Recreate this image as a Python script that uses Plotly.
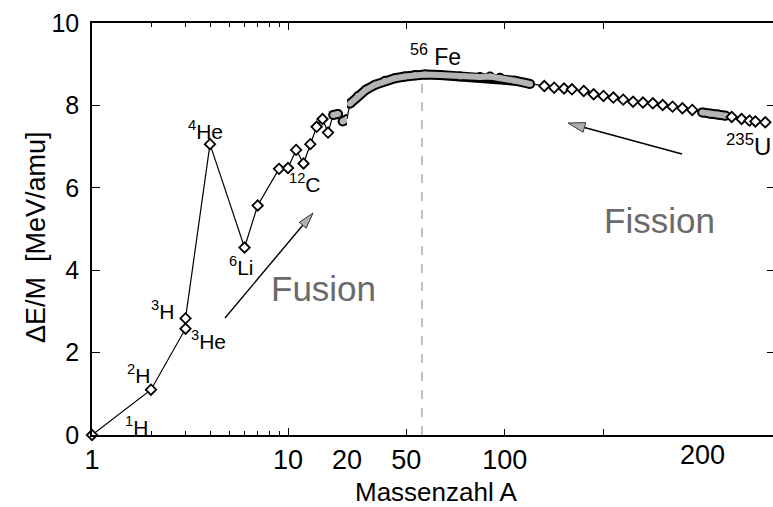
import math
import plotly.graph_objects as go

# ---------------- data ----------------
# light nuclei, log part of the mass axis
A_light = [1, 2, 3, 3, 4, 6, 7, 9, 10, 11, 12, 13, 14, 15, 16]
E_light = [0.0, 1.10, 2.58, 2.83, 7.06, 4.55, 5.57, 6.46, 6.48, 6.92, 6.59, 7.06, 7.48, 7.67, 7.34]
# dense groups of nuclei drawn as grey bands
A_blob1 = [17, 18]
E_blob1 = [7.77, 7.79]
A_blob2 = [19, 20]
E_blob2 = [7.61, 7.67]
A_band = [21.5, 25.6, 29.6, 34.2, 39.3, 44.3, 49.4, 54.5, 59.5, 67.1, 77.3, 87.4, 92.5, 97.5, 105.1, 112.8]
E_band = [8.04, 8.23, 8.38, 8.50, 8.60, 8.66, 8.70, 8.74, 8.75, 8.74, 8.70, 8.69, 8.70, 8.67, 8.60, 8.52]
# heavy nuclei
A_heavy = [120, 125, 130, 134, 140, 145, 150, 155, 160, 165, 170, 175, 180, 185, 190, 195]
E_heavy = [8.47, 8.43, 8.41, 8.39, 8.35, 8.27, 8.23, 8.19, 8.14, 8.09, 8.07, 8.05, 8.01, 7.97, 7.93, 7.89]
A_blob3 = [200, 204, 208, 212]
E_blob3 = [7.83, 7.80, 7.78, 7.75]
A_heavy2 = [215, 220, 224, 227, 232]
E_heavy2 = [7.72, 7.67, 7.63, 7.61, 7.59]
# dashed marker line at the iron peak
A_fe_line = [58, 58]
E_fe_line = [0, 8.68]

# axis ticks
x_log_ticks = [1, 10]
x_log_text = ["1", "10"]
x_log_minor = [2, 3, 4, 5, 6, 7, 8, 9]
x_lin_ticks = [20, 50, 100, 150]
x_lin_text = ["20", "50", "100", ""]
x_extra_label = "200"
y_ticks = [0, 2, 4, 6, 8, 10]
y_text = ["0", "2", "4", "6", "8", "10"]

# ---------------- layout geometry ----------------
W, H = 773, 507
PLOT_L, PLOT_R, PLOT_T, PLOT_B = 92, 774, 23, 435   # plot area in window pixels
L, R = PLOT_L, 0
T, B = PLOT_T, H - PLOT_B
PW, PH = W - L - R, PLOT_B - PLOT_T
X_SPLIT_PX = 347  # pixel where the log part (1..20) turns linear
d = (X_SPLIT_PX - PLOT_L) / PW
LIN_END = 20 + (W - X_SPLIT_PX) / 1.973

FONT = "Liberation Sans, Arial, Helvetica, sans-serif"


def px(x, y):
    return (x - PLOT_L) / PW, (PLOT_B - y) / PH


A_all = A_light + A_blob1 + A_blob2 + A_band + A_heavy + A_blob3 + A_heavy2
E_all = E_light + E_blob1 + E_blob2 + E_band + E_heavy + E_blob3 + E_heavy2
A_left = [a for a in A_all if a <= 20]
E_left = [e for a, e in zip(A_all, E_all) if a <= 20]
A_right = [a for a in A_all if a >= 20]
E_right = [e for a, e in zip(A_all, E_all) if a >= 20]

fig = go.Figure()

# dashed line at Fe
fig.add_trace(go.Scatter(x=A_fe_line, y=E_fe_line, xaxis="x2", yaxis="y", mode="lines",
                         line=dict(color="#999999", width=1.2, dash="dash"), hoverinfo="skip"))

# connecting lines
fig.add_trace(go.Scatter(x=A_left, y=E_left, xaxis="x", yaxis="y", mode="lines",
                         line=dict(color="black", width=1.2)))
fig.add_trace(go.Scatter(x=A_right, y=E_right, xaxis="x2", yaxis="y", mode="lines",
                         line=dict(color="black", width=1.2)))


def band(xs, ys, xa):
    fig.add_trace(go.Scatter(x=xs, y=ys, xaxis=xa, yaxis="y", mode="lines+markers",
                             line=dict(color="black", width=10),
                             marker=dict(symbol="circle", size=10, color="black", line=dict(width=0))))
    fig.add_trace(go.Scatter(x=xs, y=ys, xaxis=xa, yaxis="y", mode="lines+markers",
                             line=dict(color="#b4b4b4", width=6),
                             marker=dict(symbol="circle", size=6, color="#b4b4b4", line=dict(width=0))))


band(A_blob1, E_blob1, "x")
band(A_blob2, E_blob2, "x")
band(A_band, E_band, "x2")
band(A_blob3, E_blob3, "x2")

mk = dict(symbol="diamond", size=8, color="white", line=dict(color="black", width=1.8))
fig.add_trace(go.Scatter(x=A_light, y=E_light, xaxis="x", yaxis="y", mode="markers",
                         marker=mk, cliponaxis=False))
fig.add_trace(go.Scatter(x=A_heavy + A_heavy2, y=E_heavy + E_heavy2, xaxis="x2", yaxis="y",
                         mode="markers", marker=mk, cliponaxis=False))
# invisible trace to create the right-hand tick axis
fig.add_trace(go.Scatter(x=[100], y=[5], xaxis="x2", yaxis="y2", mode="markers",
                         marker=dict(opacity=0), hoverinfo="skip"))

axis_common = dict(showgrid=False, zeroline=False, showline=True, linecolor="black", linewidth=1.6,
                   ticks="inside", tickcolor="black", tickwidth=1.4,
                   tickfont=dict(family=FONT, size=27, color="black"))

fig.update_layout(
    width=W, height=H,
    margin=dict(l=L, r=R, t=T, b=B, pad=0, autoexpand=False),
    plot_bgcolor="white", paper_bgcolor="white", showlegend=False,
    xaxis=dict(axis_common, type="log", domain=[0, d], range=[0, math.log10(20)], anchor="y",
               tickvals=x_log_ticks, ticktext=x_log_text, ticklen=7, mirror="ticks",
               minor=dict(tickvals=x_log_minor, ticks="inside", ticklen=4, tickcolor="black",
                          tickwidth=1.2, showgrid=False)),
    xaxis2=dict(axis_common, domain=[d, 1], range=[20, LIN_END], anchor="y",
                tickvals=x_lin_ticks, ticktext=x_lin_text, ticklen=6, mirror="ticks"),
    yaxis=dict(axis_common, range=[0, 10], anchor="x", tickvals=y_ticks, ticktext=y_text,
               ticklen=8, tickfont=dict(family=FONT, size=25, color="black"), ticklabelstandoff=6),
    yaxis2=dict(range=[0, 10], anchor="x2", overlaying="y", side="right", tickvals=y_ticks,
                ticks="inside", ticklen=6, tickcolor="black", tickwidth=1.4,
                showticklabels=False, showline=False, showgrid=False, zeroline=False),
)

ann = []


def label(text, x, y, size=21, color="black", angle=0):
    fx, fy = px(x, y)
    ann.append(dict(text=text, x=fx, y=fy, xref="paper", yref="paper", showarrow=False,
                    xanchor="center", yanchor="middle", textangle=angle,
                    font=dict(family=FONT, size=size, color=color)))


label("<sup>1</sup>H", 136, 426)
label("<sup>2</sup>H", 138, 374)
label("<sup>3</sup>H", 162, 310)
label("<sup>3</sup>He", 208, 340)
label("<sup>4</sup>He", 205, 130)
label("<sup>6</sup>Li", 241, 266)
label("<sup>12</sup>C", 305, 183)
label("<sup>56</sup> Fe", 435, 55, size=23)
label("<sup>235</sup>U", 748, 145, size=24)
label("Fusion", 323, 288, size=35, color="#6a6a6a")
label("Fission", 659, 220, size=35, color="#6a6a6a")
label("Massenzahl A", 436, 492, size=26)
label("ΔE/M  [MeV/amu]", 36, 237, size=27, angle=-90)
label(x_extra_label, 702, 455, size=27)

fig.update_layout(annotations=ann)

shapes = []


def arrow(tx, ty, hx, hy, hl=16, hw=4.5):
    vx, vy = hx - tx, hy - ty
    n = math.hypot(vx, vy)
    ux, uy = vx / n, vy / n
    bx, by = hx - ux * hl, hy - uy * hl
    p1 = px(bx - uy * hw, by + ux * hw)
    p2 = px(bx + uy * hw, by - ux * hw)
    ph = px(hx, hy)
    pt = px(tx, ty)
    pb = px(bx, by)
    shapes.append(dict(type="line", xref="paper", yref="paper", x0=pt[0], y0=pt[1], x1=pb[0], y1=pb[1],
                       line=dict(color="black", width=1.4)))
    path = f"M {ph[0]},{ph[1]} L {p1[0]},{p1[1]} L {p2[0]},{p2[1]} Z"
    shapes.append(dict(type="path", xref="paper", yref="paper", path=path,
                       fillcolor="#b0b0b0", line=dict(color="#333333", width=1)))


arrow(225, 318, 313, 213)
arrow(682, 154, 568, 123, hl=17, hw=5)
fig.update_layout(shapes=shapes)

# remove the default page margin so the figure fills the window exactly
page_fix = ("document.documentElement.style.margin='0';document.body.style.margin='0';"
            "document.body.style.overflow='hidden';document.documentElement.style.overflow='hidden';")
fig.write_html("out.html", post_script=page_fix, config={"displayModeBar": False})
